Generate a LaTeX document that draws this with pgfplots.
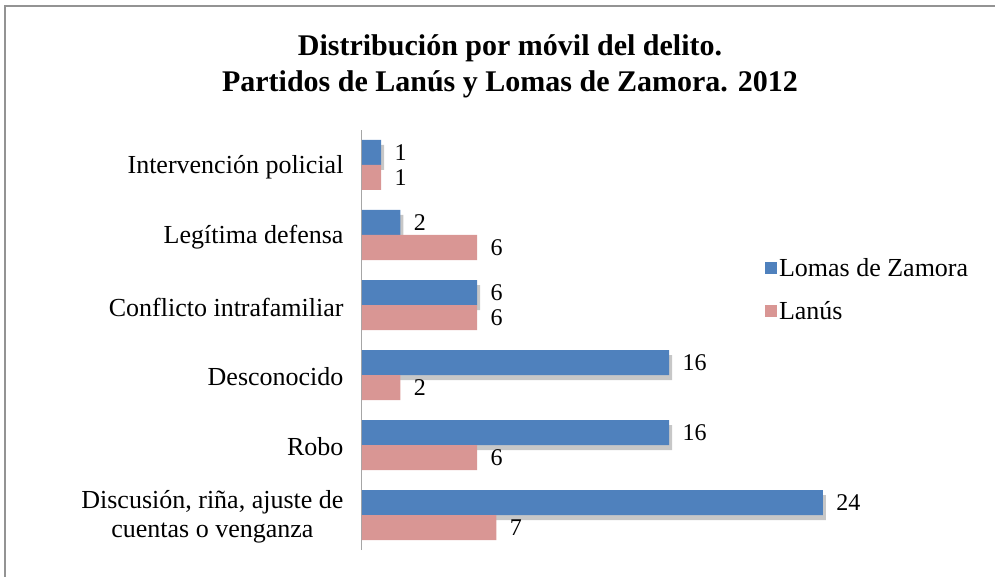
\documentclass[border=0pt]{standalone}
\usepackage{fontspec}
\setmainfont{Liberation Serif}
\usepackage{pgfplots}
\pgfplotsset{compat=1.18}
\usetikzlibrary{shadows}
\definecolor{cblue}{HTML}{4F81BD}
\definecolor{cpink}{HTML}{D99694}
\begin{document}
\begin{tikzpicture}
\path[use as bounding box] (-362pt,-26pt) rectangle (633pt,550pt);
\begin{axis}[
  at={(0pt,0pt)}, anchor=south west,
  scale only axis, width=480pt, height=420pt,
  xmin=0, xmax=25, ymin=-0.5, ymax=5.5,
  xbar, bar width=25pt,
  hide x axis,
  axis y line*=left,
  y axis line style={-, draw=gray!70, line width=1pt},
  ytick={0,...,5},
  major tick length=0pt,
  /pgf/number format/assume math mode=true,
  yticklabels={{Discusión, riña, ajuste de\\cuentas o venganza}, Robo, Desconocido, {Conflicto intrafamiliar}, {Legítima defensa}, {Intervención policial}},
  yticklabel style={align=center, font=\fontsize{26}{29}\selectfont, xshift=-15pt, yshift=-2pt},
  nodes near coords,
  nodes near coords style={font=\fontsize{24}{27}\selectfont, xshift=10pt, text=black},
  legend style={at={(0.833,0.705)}, anchor=north west, draw=none, fill=none,
    font=\fontsize{26}{29}\selectfont, row sep=20pt, legend cell align=left},
  legend image code/.code={\fill[#1] (0pt,-6pt) rectangle (12pt,6pt);},
  clip=false,
]
\addlegendimage{fill=cblue, draw=none}
\addlegendentry{Lomas de Zamora}
\addlegendimage{fill=cpink, draw=none}
\addlegendentry{Lanús}
\addplot[fill=cblue, draw=none, bar shift=12.5pt, forget plot,
  drop shadow={shadow xshift=3pt, shadow yshift=-5pt, opacity=0.22, fill=black}]
  coordinates {(24,0) (16,1) (16,2) (6,3) (2,4) (1,5)};
\addplot[fill=cpink, draw=none, bar shift=-12.5pt, forget plot]
  coordinates {(7,0) (6,1) (2,2) (6,3) (6,4) (1,5)};
\end{axis}
\draw[gray!85, line width=2pt] (-357pt,-40pt) -- (-357pt,544pt) -- (650pt,544pt);
\node[font=\bfseries\fontsize{30}{36}\selectfont, align=center] at (148pt,484pt)
  {Distribución por móvil del delito.\\Partidos de Lanús y Lomas de Zamora. 2012};
\end{tikzpicture}
\end{document}
